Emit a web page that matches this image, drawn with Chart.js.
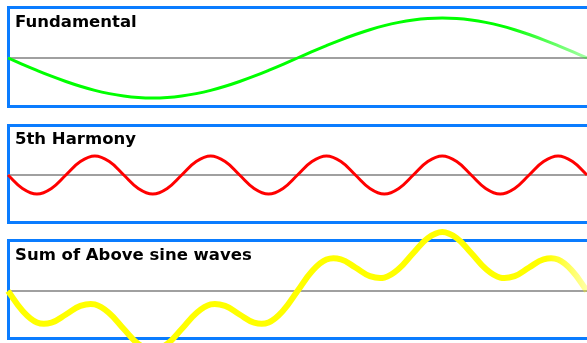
<!DOCTYPE html>
<html>
<head>
<meta charset="utf-8">
<script src="https://cdn.jsdelivr.net/npm/chart.js@4.4.1/dist/chart.umd.min.js"></script>
<style>
  html, body { margin: 0; padding: 0; background: #fff; overflow: hidden; }
  #wrap { position: relative; width: 587px; height: 343px; }
  .panel { position: absolute; left: 7px; width: 600px; border: 3px solid #0a7cff; box-sizing: border-box; }
  .title { position: absolute; left: 15px; font: bold 16.5px "DejaVu Sans", Verdana, sans-serif; line-height: 16px; color: #000; white-space: nowrap; z-index: 3; }
  canvas { position: absolute; left: 0; z-index: 2; }
</style>
</head>
<body>
<div id="wrap">
  <div class="panel" style="top:6px;height:102px"></div>
  <div class="panel" style="top:124px;height:100px"></div>
  <div class="panel" style="top:239px;height:101px"></div>

  <div class="title" style="top:14px">Fundamental</div>
  <div class="title" style="top:131px">5th Harmony</div>
  <div class="title" style="top:247px">Sum of Above sine waves</div>

  <canvas id="c1" width="587" height="110" style="top:0px"></canvas>
  <canvas id="c2" width="587" height="110" style="top:110px"></canvas>
  <canvas id="c3" width="587" height="123" style="top:220px"></canvas>
</div>

<script>
// sample positions along one period of the fundamental (0 - 100)
const positions = [0, 2.5, 5, 7.5, 10, 12.5, 15, 17.5, 20, 22.5, 25, 27.5, 30, 32.5, 35, 37.5, 40,
  42.5, 45, 47.5, 50, 52.5, 55, 57.5, 60, 62.5, 65, 67.5, 70, 72.5, 75, 77.5, 80, 82.5, 85, 87.5,
  90, 92.5, 95, 97.5, 100];

const fundamental = [0, -6.3, -12.4, -18.2, -23.5, -28.3, -32.4, -35.6, -38.0, -39.5, -40,
  -39.5, -38.0, -35.6, -32.4, -28.3, -23.5, -18.2, -12.4, -6.3, 0,
  6.3, 12.4, 18.2, 23.5, 28.3, 32.4, 35.6, 38.0, 39.5, 40,
  39.5, 38.0, 35.6, 32.4, 28.3, 23.5, 18.2, 12.4, 6.3, 0];

const harmonic5 = [0, -13.4, -19, -13.4, 0, 13.4, 19, 13.4,
  0, -13.4, -19, -13.4, 0, 13.4, 19, 13.4,
  0, -13.4, -19, -13.4, 0, 13.4, 19, 13.4,
  0, -13.4, -19, -13.4, 0, 13.4, 19, 13.4,
  0, -13.4, -19, -13.4, 0, 13.4, 19, 13.4, 0];

const sumWave = [0, -19.7, -31.4, -31.6, -23.5, -14.9, -13.4, -22.2, -38.0, -52.9, -59,
  -52.9, -38.0, -22.2, -13.4, -14.9, -23.5, -31.6, -31.4, -19.7, 0,
  19.7, 31.4, 31.6, 23.5, 14.9, 13.4, 22.2, 38.0, 52.9, 59,
  52.9, 38.0, 22.2, 13.4, 14.9, 23.5, 31.6, 31.4, 19.7, 0];

// gray zero line across each panel
const zeroLine = {
  id: 'zeroLine',
  beforeDatasetsDraw(chart) {
    const ctx = chart.ctx;
    const area = chart.chartArea;
    const y = Math.round(chart.scales.y.getPixelForValue(0));
    ctx.save();
    ctx.strokeStyle = '#a0a0a0';
    ctx.lineWidth = 2;
    ctx.beginPath();
    ctx.moveTo(area.left, y);
    ctx.lineTo(area.right, y);
    ctx.stroke();
    ctx.restore();
  }
};

function fadeColor(rgb, fadeFrom) {
  return function (context) {
    const area = context.chart.chartArea;
    if (!area) return 'rgb(' + rgb + ')';
    const g = context.chart.ctx.createLinearGradient(area.left, 0, area.right, 0);
    g.addColorStop(0, 'rgb(' + rgb + ')');
    g.addColorStop(fadeFrom, 'rgb(' + rgb + ')');
    g.addColorStop(1, 'rgba(' + rgb + ',0.35)');
    return g;
  };
}

function makeWave(id, values, color, width, yMin, yMax) {
  new Chart(document.getElementById(id), {
    type: 'line',
    data: {
      datasets: [{
        data: positions.map((p, i) => ({ x: p, y: values[i] })),
        borderColor: color,
        borderWidth: width,
        pointRadius: 0,
        tension: 0.4,
        fill: false,
        clip: false
      }]
    },
    options: {
      responsive: false,
      animation: false,
      layout: { padding: { left: 8, right: 0, top: 0, bottom: 0 } },
      plugins: { legend: { display: false }, tooltip: { enabled: false } },
      scales: {
        x: { type: 'linear', display: false, min: 0, max: 100 },
        y: { display: false, min: yMin, max: yMax }
      }
    },
    plugins: [zeroLine]
  });
}

makeWave('c1', fundamental, fadeColor('0,255,0', 0.86), 3, -52, 58);
makeWave('c2', harmonic5, '#ff0000', 3, -45, 65);
makeWave('c3', sumWave, fadeColor('255,255,0', 0.93), 6, -52, 71);
</script>
</body>
</html>
